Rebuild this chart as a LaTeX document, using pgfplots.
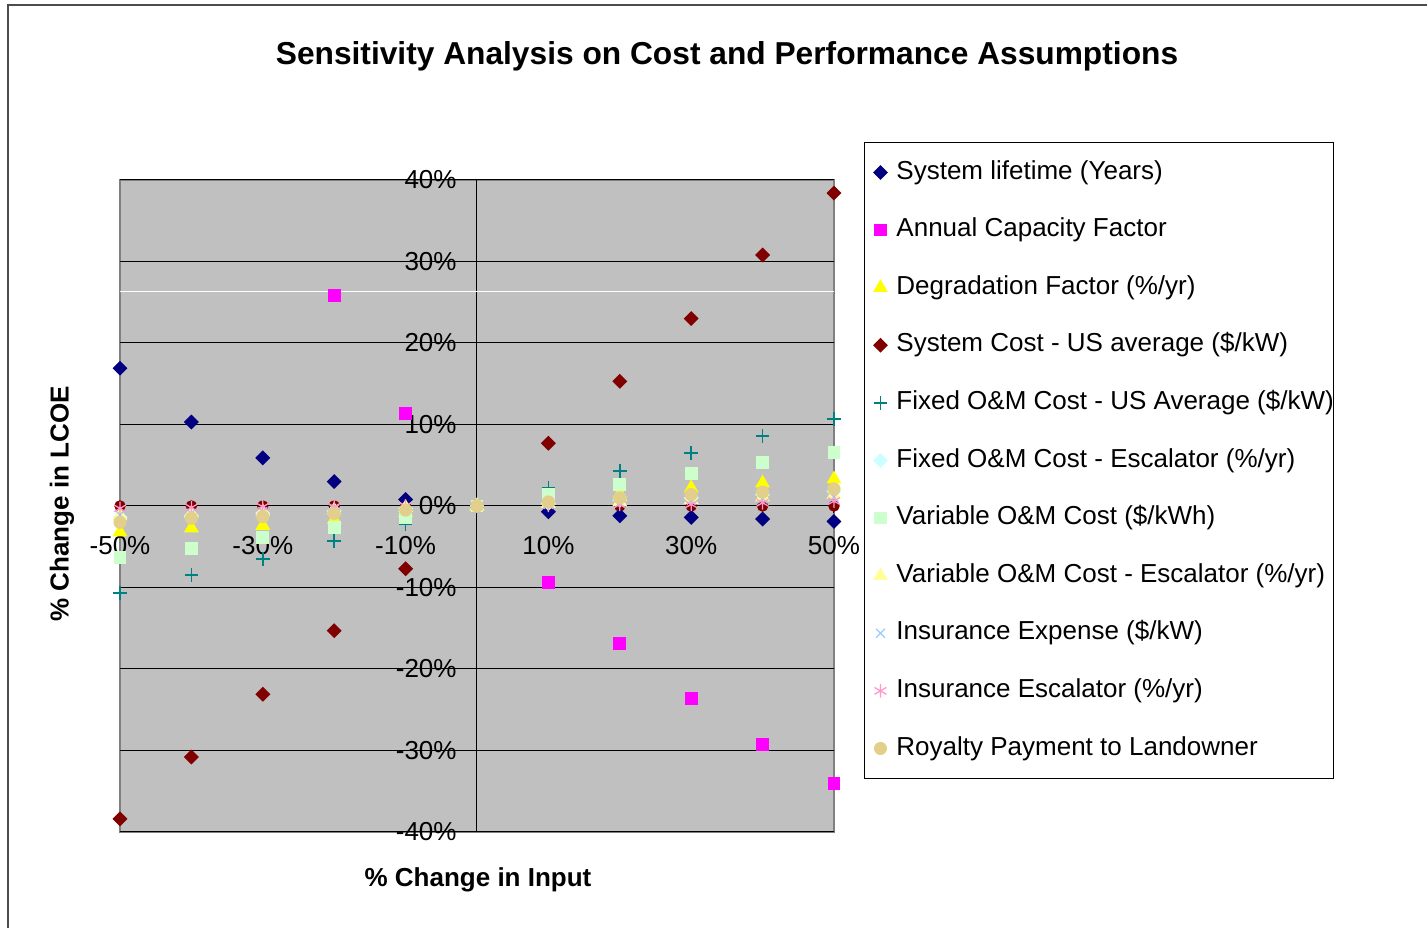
\documentclass[border=0pt]{standalone}
\usepackage{fontspec}
\setmainfont{Liberation Sans}
\usepackage{pgfplots}
\pgfplotsset{compat=1.18}

\definecolor{plotbg}{HTML}{C0C0C0}
\definecolor{framegray}{HTML}{808080}
\definecolor{cNavy}{HTML}{000080}
\definecolor{cMagenta}{HTML}{FF00FF}
\definecolor{cYellow}{HTML}{FFFF00}
\definecolor{cDarkRed}{HTML}{800000}
\definecolor{cTeal}{HTML}{008080}
\definecolor{cLtCyan}{HTML}{CCFFFF}
\definecolor{cLtGreen}{HTML}{CCFFCC}
\definecolor{cLtYellow}{HTML}{FFFF99}
\definecolor{cLtBlue}{HTML}{99CCFF}
\definecolor{cPink}{HTML}{FF99CC}
\definecolor{cTan}{HTML}{E3CF8C}

\newcommand{\lblfont}{\fontsize{9.1}{11}\selectfont}

\begin{document}
\begin{tikzpicture}
% pixel grid of the reference: 1px = 0.35pt
\begin{scope}[x=0.35pt,y=-0.35pt]
\useasboundingbox (0,0) rectangle (1427,928);
\draw[line width=0.7pt, black!70] (8,5) rectangle (1460,960);
\node[font=\bfseries\fontsize{11.1}{13}\selectfont] at (727,56)
  {Sensitivity Analysis on Cost and Performance Assumptions};
\node[font=\bfseries\lblfont] at (478,880) {\% Change in Input};
\node[font=\bfseries\lblfont, rotate=90] at (62,504) {\% Change in LCOE};
\end{scope}

\begin{axis}[
  at={(42pt,-291.2pt)}, anchor=south west,
  scale only axis, width=249.9pt, height=228.2pt,
  xmin=-50, xmax=50, ymin=-40, ymax=40,
  enlargelimits=false,
  axis lines=middle,
  axis line style={-, black, line width=0.35pt},
  axis background/.style={fill=plotbg, draw=framegray, line width=0.5pt},
  xtick={-50,-30,-10,10,30,50},
  xticklabels={-50\%,-30\%,-10\%,10\%,30\%,50\%},
  ytick={-40,-30,-20,-10,0,10,20,30,40},
  yticklabels={-40\%,-30\%,-20\%,-10\%,0\%,10\%,20\%,30\%,40\%},
  hide obscured x ticks=false, hide obscured y ticks=false,
  tick align=outside,
  major tick length=2.45pt,
  tick style={black, line width=0.35pt},
  ymajorgrids, grid style={black, line width=0.35pt},
  tick label style={font=\lblfont},
  yticklabel style={anchor=east, inner sep=0pt, xshift=-4.5pt},
  xticklabel style={anchor=center, inner sep=0pt, yshift=-11.4pt},
  restrict y to domain=-41:41,
  clip=false,
  legend style={at={(1.042,1.0583)}, anchor=north west, draw=black,
    line width=0.35pt, fill=white, font=\lblfont,
    inner xsep=0pt, inner ysep=6.2pt, row sep=11.56pt, column sep=2.8pt,
    nodes={inner sep=0pt, text height=6.6pt, text depth=2pt, anchor=west}},
  legend cell align=left,
  legend image code/.code={\path[draw=none,fill=none] (-5.6pt,0pt) -- (2.8pt,0pt);
    \draw[#1] plot coordinates {(0pt,0pt)};},
]
\draw[white, line width=0.35pt] (axis cs:-50,26.3) -- (axis cs:50,26.3);

% small dark-red markers sitting on the zero line (no legend entry)
\addplot[only marks, mark=*, mark size=1.8pt, color=cDarkRed, forget plot] coordinates {
  (-50,0)(-40,0)(-30,0)(-20,0)(-10,0)(0,0)(10,0)(20,0)(30,0)(40,0)(50,0)};

\addplot[only marks, mark=square*, mark size=1.65pt, mark options={rotate=45}, color=cNavy] coordinates {
  (-50,16.9)(-40,10.3)(-30,5.9)(-20,3.0)(-10,0.8)(0,0)(10,-0.7)(20,-1.2)(30,-1.4)(40,-1.6)(50,-1.9)};
\addlegendentry{System lifetime (Years)}

\addplot[only marks, mark=square*, mark size=2.05pt, color=cMagenta] coordinates {
  (-50,100)(-40,66.7)(-30,42.9)(-20,25.8)(-10,11.4)(0,0)(10,-9.4)(20,-16.9)(30,-23.6)(40,-29.3)(50,-34.1)};
\addlegendentry{Annual Capacity Factor}

\addplot[only marks, mark=triangle*, mark size=2.6pt, color=cYellow] coordinates {
  (-50,-3.2)(-40,-2.7)(-30,-2.4)(-20,-1.7)(-10,-0.8)(0,0)(10,0.7)(20,1.5)(30,2.2)(40,2.8)(50,3.3)};
\addlegendentry{Degradation Factor (\%/yr)}

\addplot[only marks, mark=square*, mark size=1.65pt, mark options={rotate=45}, color=cDarkRed] coordinates {
  (-50,-38.4)(-40,-30.8)(-30,-23.1)(-20,-15.3)(-10,-7.7)(0,0)(10,7.7)(20,15.3)(30,23.0)(40,30.8)(50,38.4)};
\addlegendentry{System Cost - US average (\$/kW)}

\addplot[only marks, mark=+, mark size=2.4pt, mark options={line width=0.55pt}, color=cTeal] coordinates {
  (-50,-10.7)(-40,-8.5)(-30,-6.5)(-20,-4.3)(-10,-2.2)(0,0)(10,2.2)(20,4.3)(30,6.5)(40,8.6)(50,10.7)};
\addlegendentry{Fixed O\&M Cost - US Average (\$/kW)}

\addplot[only marks, mark=square*, mark size=1.65pt, mark options={rotate=45}, color=cLtCyan] coordinates {
  (-50,-1.4)(-40,-1.2)(-30,-0.9)(-20,-0.6)(-10,-0.3)(0,0)(10,0.3)(20,0.7)(30,1.0)(40,1.4)(50,1.8)};
\addlegendentry{Fixed O\&M Cost - Escalator (\%/yr)}

\addplot[only marks, mark=square*, mark size=2.05pt, color=cLtGreen] coordinates {
  (-50,-6.3)(-40,-5.2)(-30,-3.9)(-20,-2.6)(-10,-1.4)(0,0)(10,1.4)(20,2.6)(30,4.0)(40,5.3)(50,6.6)};
\addlegendentry{Variable O\&M Cost (\$/kWh)}

\addplot[only marks, mark=triangle*, mark size=2.6pt, color=cLtYellow] coordinates {
  (-50,-1.2)(-40,-0.9)(-30,-0.7)(-20,-0.5)(-10,-0.2)(0,0)(10,0.3)(20,0.5)(30,0.8)(40,1.1)(50,1.4)};
\addlegendentry{Variable O\&M Cost - Escalator (\%/yr)}

\addplot[only marks, mark=x, mark size=2.2pt, mark options={line width=0.45pt}, color=cLtBlue] coordinates {
  (-50,-1.1)(-40,-0.9)(-30,-0.7)(-20,-0.4)(-10,-0.2)(0,0)(10,0.2)(20,0.4)(30,0.7)(40,0.9)(50,1.1)};
\addlegendentry{Insurance Expense (\$/kW)}

\addplot[only marks, mark=asterisk, mark size=2.4pt, mark options={line width=0.45pt}, color=cPink] coordinates {
  (-50,-0.3)(-40,-0.2)(-30,-0.1)(-20,-0.1)(-10,0)(0,0)(10,0.1)(20,0.2)(30,0.2)(40,0.4)(50,0.6)};
\addlegendentry{Insurance Escalator (\%/yr)}

\addplot[only marks, mark=*, mark size=2.1pt, color=cTan] coordinates {
  (-50,-2.0)(-40,-1.5)(-30,-1.3)(-20,-0.9)(-10,-0.5)(0,0)(10,0.5)(20,1.0)(30,1.4)(40,1.7)(50,2.1)};
\addlegendentry{Royalty Payment to Landowner}
\end{axis}
\end{tikzpicture}
\end{document}
